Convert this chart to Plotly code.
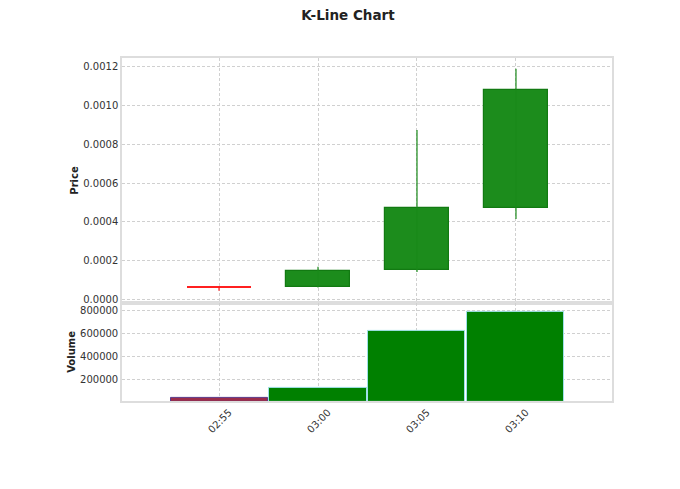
import plotly.graph_objects as go

times = ["02:55", "03:00", "03:05", "03:10"]
opens = [0.0000660, 0.0000645, 0.000152, 0.000472]
closes = [0.0000640, 0.000147, 0.000472, 0.001080]
highs = [0.0000665, 0.000168, 0.000875, 0.001190]
lows = [0.0000445, 0.0000620, 0.000142, 0.000415]
volumes = [34000, 127000, 622000, 788000]

price_ticks = [0.0, 0.0002, 0.0004, 0.0006, 0.0008, 0.0010, 0.0012]
volume_ticks = [200000, 400000, 600000, 800000]

idx = list(range(len(times)))
up = [c >= o for o, c in zip(opens, closes)]

fig = go.Figure()

# wicks
for i in idx:
    col = "#1a8a1a" if up[i] else "#ff1a1a"
    fig.add_trace(go.Scatter(x=[i, i], y=[lows[i], highs[i]], mode="lines",
                             line=dict(color=col, width=1.2), showlegend=False,
                             hoverinfo="skip", xaxis="x", yaxis="y"))

# bodies
bases = [min(o, c) for o, c in zip(opens, closes)]
heights = [abs(c - o) for o, c in zip(opens, closes)]
fig.add_trace(go.Bar(
    x=idx, y=heights, base=bases, width=0.65,
    marker=dict(color=["#1c8c1c" if u else "#ff2020" for u in up],
                line=dict(color=["#127a12" if u else "#ff2020" for u in up], width=[1.2 if u else 2 for u in up])),
    showlegend=False, xaxis="x", yaxis="y"))

# volume
fig.add_trace(go.Bar(
    x=idx, y=volumes, width=0.98,
    marker=dict(color=["#008000" if u else "#9b2d4a" for u in up],
                line=dict(color=["#9fe0e8" if u else "#5a3a8a" for u in up], width=1)),
    showlegend=False, xaxis="x2", yaxis="y2"))

axis_common = dict(showline=True, mirror=True, linecolor="#dddddd", linewidth=1.5,
                   showgrid=True, gridcolor="#d0d0d0", griddash="3px,2px", gridwidth=0.8,
                   zeroline=False, ticks="", tickfont=dict(size=10, color="#333333"))

fig.update_layout(
    width=680, height=489,
    margin=dict(l=114, r=76, t=50, b=96),
    paper_bgcolor="white", plot_bgcolor="white",
    font=dict(family="DejaVu Sans", color="#222222"),
    title=dict(text="<b>K-Line Chart</b>", x=0.5, xref="container", xanchor="center",
               y=0.985, yref="container", yanchor="middle",
               font=dict(size=13.5, color="#222222")),
    bargap=0,
    xaxis=dict(domain=[0, 1], anchor="y", range=[-0.98, 3.97], tickvals=idx,
               showticklabels=False, **axis_common),
    xaxis2=dict(domain=[0, 1], anchor="y2", matches="x", tickvals=idx, ticktext=times,
                tickangle=-45, ticklabelshift=10, **axis_common),
    yaxis=dict(domain=[0.286, 1], anchor="x", range=[-0.000018, 0.001246],
               tickvals=price_ticks, tickformat=".4f",
               title=dict(text="<b>Price</b>", font=dict(size=10), standoff=3), **axis_common),
    yaxis2=dict(domain=[0, 0.286], anchor="x2", range=[10500, 867000],
                tickvals=volume_ticks, tickformat="d",
                title=dict(text="<b>Volume</b>", font=dict(size=10), standoff=3), **axis_common),
)

fig.write_html("out.html")
